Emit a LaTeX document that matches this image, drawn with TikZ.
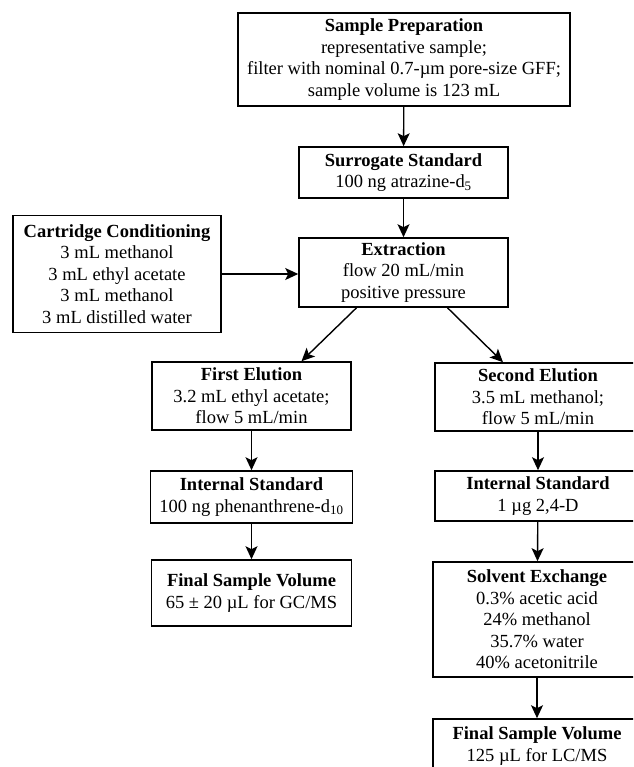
\documentclass[tikz,border=0pt]{standalone}
\usepackage{fontspec}
\setmainfont{Liberation Serif}
\usepackage{tikz}
\usetikzlibrary{arrows.meta,positioning,calc}

\begin{document}
\begin{tikzpicture}[
 x=1pt,y=-1pt,
 stage/.style={draw,line width=1.6pt,align=center,inner sep=0pt,font=\fontsize{18.5}{21.5}\selectfont},
 flow/.style={-{Stealth[length=13pt,width=12pt,inset=3pt]},line width=1.4pt}
]
\useasboundingbox (0,0) rectangle (633,767);
\clip (0,0) rectangle (633,767);
% main column
\node[stage,minimum width=332pt,minimum height=93pt] (prep) at (404,59.5)
 {\textbf{Sample Preparation}\\representative sample;\\filter with nominal 0.7-µm pore-size GFF;\\sample volume is 123 mL};
\node[stage,minimum width=209pt,minimum height=51pt] (surr) at (403.5,172.5)
 {\textbf{Surrogate Standard}\\100 ng atrazine-d\textsubscript{5}};
\node[stage,minimum width=209pt,minimum height=69pt] (extr) at (403.5,272.5)
 {\textbf{Extraction}\\flow 20 mL/min\\positive pressure};
\node[stage,minimum width=208pt,minimum height=117pt] (cond) at (117,274)
 {\textbf{Cartridge Conditioning}\\3 mL methanol\\3 mL ethyl acetate\\3 mL methanol\\3 mL distilled water};
% left branch
\node[stage,minimum width=199pt,minimum height=68pt] (elu1) at (251.5,396)
 {\textbf{First Elution}\\3.2 mL ethyl acetate;\\flow 5 mL/min};
\node[stage,minimum width=202pt,minimum height=52pt] (istd1) at (251.5,497)
 {\textbf{Internal Standard}\\100 ng phenanthrene-d\textsubscript{10}};
\node[stage,minimum width=200pt,minimum height=66pt] (fin1) at (251.5,593)
 {\textbf{Final Sample Volume}\\65 ± 20 µL for GC/MS};
% right branch
\node[stage,minimum width=206pt,minimum height=68pt] (elu2) at (538,397)
 {\textbf{Second Elution}\\3.5 mL methanol;\\flow 5 mL/min};
\node[stage,minimum width=206pt,minimum height=50pt] (istd2) at (538,496)
 {\textbf{Internal Standard}\\1 µg 2,4-D};
\node[stage,minimum width=208pt,minimum height=115pt] (solv) at (537,619.5)
 {\textbf{Solvent Exchange}\\0.3\% acetic acid\\24\% methanol\\35.7\% water\\40\% acetonitrile};
\node[stage,minimum width=208pt,minimum height=54pt] (fin2) at (537,746)
 {\textbf{Final Sample Volume}\\125 µL for LC/MS};

\draw[flow] (prep) -- (surr);
\draw[flow] (surr) -- (extr);
\draw[flow] (cond.east) -- (cond.east -| extr.west);
\draw[flow] ([xshift=-47pt]extr.south) -- ([xshift=50pt]elu1.north);
\draw[flow] ([xshift=44pt]extr.south) -- ([xshift=-35pt]elu2.north);
\draw[flow] (elu1) -- (istd1);
\draw[flow] (istd1) -- (fin1);
\draw[flow] (elu2) -- (istd2);
\draw[flow] (istd2) -- (solv);
\draw[flow] (solv) -- (fin2);
\end{tikzpicture}
\end{document}
